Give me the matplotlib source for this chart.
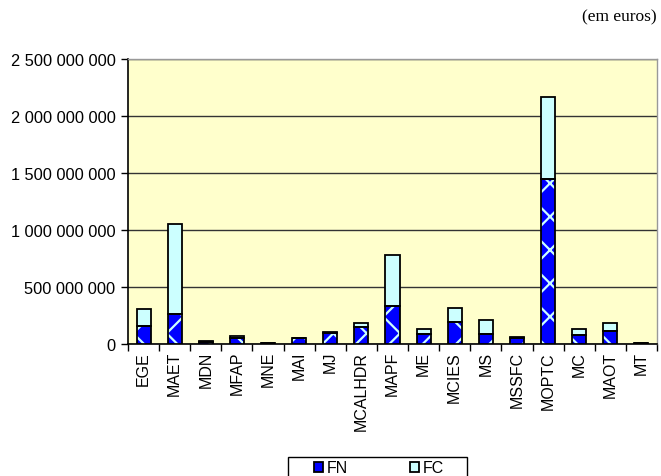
import matplotlib
matplotlib.use("Agg")
import matplotlib.pyplot as plt
import numpy as np
from matplotlib.patches import Rectangle
from matplotlib.ticker import FuncFormatter, MultipleLocator, FixedLocator

categories = ["EGE", "MAET", "MDN", "MFAP", "MNE", "MAI", "MJ", "MCALHDR", "MAPF",
              "ME", "MCIES", "MS", "MSSFC", "MOPTC", "MC", "MAOT", "MT"]
fn_values = [160e6, 262e6, 16e6, 54e6, 8e6, 52e6, 95e6, 146e6, 329e6,
             87e6, 195e6, 87e6, 50e6, 1448e6, 79e6, 117e6, 5e6]
fc_values = [146e6, 787e6, 6e6, 12e6, 3e6, 4e6, 8e6, 38e6, 455e6,
             44e6, 123e6, 126e6, 14e6, 723e6, 52e6, 67e6, 4e6]
series_names = ["FN", "FC"]
unit_note = "(em euros)"

BLUE = "#0000FF"
CYAN = "#CCFFFF"
BG = "#FFFFCC"

plt.rcParams["font.family"] = ["Liberation Sans", "DejaVu Sans"]
plt.rcParams["hatch.linewidth"] = 1.6

fig = plt.figure(figsize=(6.61, 4.77), dpi=100)
W, H = 661, 477
left, right, top, bottom = 128, 657, 60, 345
ax = fig.add_axes([left / W, 1 - bottom / H, (right - left) / W, (bottom - top) / H])
ax.set_facecolor(BG)

x = np.arange(len(categories))
width = 0.45

# FN: blue bars with a cyan lattice pattern, outlined separately
fn_fill = ax.bar(x, fn_values, width, color=BLUE, edgecolor=CYAN, linewidth=0,
                 hatch="x", zorder=3)
fn_edge = ax.bar(x, fn_values, width, fill=False, edgecolor="black",
                 linewidth=1.3, zorder=4)
fc_bars = ax.bar(x, fc_values, width, bottom=fn_values, color=CYAN,
                 edgecolor="black", linewidth=1.3, zorder=3)

ax.set_xlim(-0.5, len(categories) - 0.5)
ax.set_ylim(0, 2.5e9)
ax.yaxis.set_major_locator(MultipleLocator(5e8))
ax.yaxis.set_major_formatter(FuncFormatter(lambda v, p: f"{int(v):,}".replace(",", " ")))
ax.grid(axis="y", color="#333333", linewidth=1.0, zorder=1)
ax.set_axisbelow(True)

ax.set_xticks(x)
ax.set_xticklabels(categories, rotation=90, fontsize=11.5)
ax.xaxis.set_minor_locator(FixedLocator(np.arange(-0.5, len(categories), 1.0)))
ax.tick_params(axis="x", which="major", length=0, pad=5)
ax.tick_params(axis="x", which="minor", length=5, width=1, direction="out", color="black")
ax.tick_params(axis="y", length=5, width=1, direction="out", labelsize=11.8, pad=4)

for s in ("left", "bottom"):
    ax.spines[s].set_color("black")
    ax.spines[s].set_linewidth(1.2)
for s in ("top", "right"):
    ax.spines[s].set_color("#999999")
    ax.spines[s].set_linewidth(1.0)

fig.text(657 / W, 1 - 17 / H, unit_note, ha="right", va="center",
         family="Liberation Serif", fontsize=12.5)

# legend strip: a framed box running off the bottom edge, entries centred inside
fig.add_artist(Rectangle((288 / W, 1 - 482 / H), 179 / W, 24 / H,
                         transform=fig.transFigure, facecolor="white",
                         edgecolor="black", linewidth=1.0, zorder=5))
leg = fig.legend([(fn_fill[0], fn_edge[0]), fc_bars[0]], series_names,
                 loc="center", bbox_to_anchor=(379 / W, 1 - 469 / H),
                 ncol=2, frameon=False, fontsize=11.5,
                 handlelength=0.55, handleheight=0.55,
                 handletextpad=0.25, columnspacing=3.9, borderpad=0,
                 borderaxespad=0)
leg.set_zorder(6)

fig.savefig("out.png", dpi=100)
